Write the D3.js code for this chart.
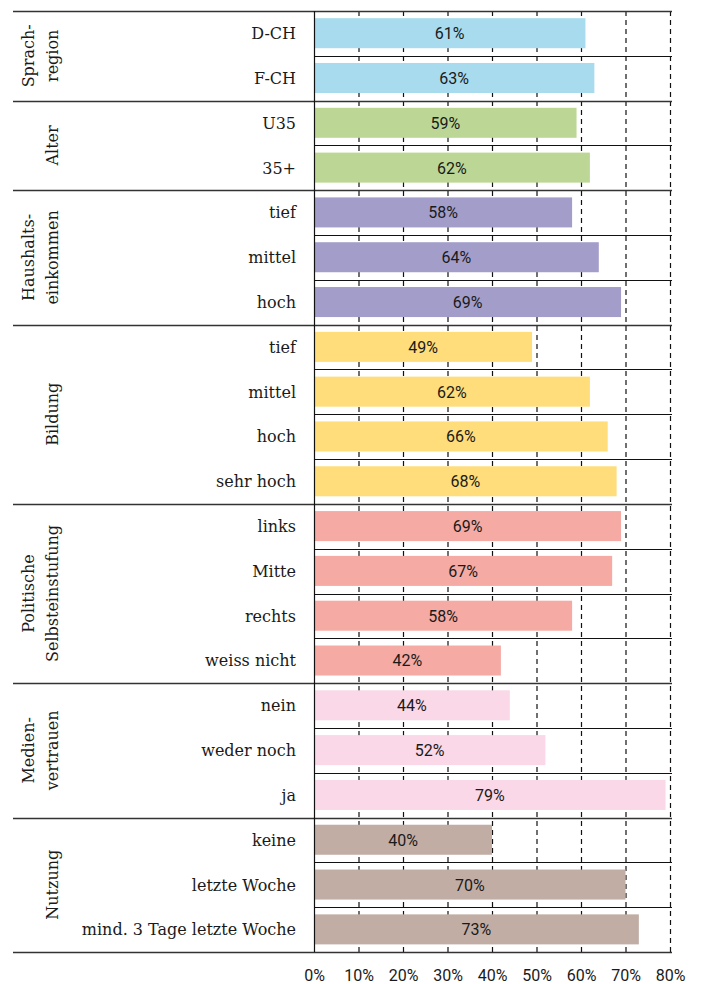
<!DOCTYPE html>
<html><head><meta charset="utf-8">
<script src="https://cdn.jsdelivr.net/npm/d3@7"></script>
<style>
html,body{margin:0;padding:0;background:#fff;}
svg{display:block;}
</style></head>
<body><svg id="chart" width="702" height="984"></svg>
<script>
const groupNames = ["Sprach-\nregion","Alter","Haushalts-\neinkommen","Bildung","Politische\nSelbsteinstufung","Medien-\nvertrauen","Nutzung"];
const groupColors = ["#a8dbee","#bcd795","#a39dca","#fedd7a","#f5aaa4","#fad8e7","#c2ada5"];
const groupOf = [0,0,1,1,2,2,2,3,3,3,3,4,4,4,4,5,5,5,6,6,6];
const categories = ["D-CH","F-CH","U35","35+","tief","mittel","hoch","tief","mittel","hoch","sehr hoch","links","Mitte","rechts","weiss nicht","nein","weder noch","ja","keine","letzte Woche","mind. 3 Tage letzte Woche"];
const values = [61,63,59,62,58,64,69,49,62,66,68,69,67,58,42,44,52,79,40,70,73];
const tickValues = [0,10,20,30,40,50,60,70,80];

const svg = d3.select("#chart");
const serif = "'DejaVu Serif', serif";
const sans = "Roboto, 'Open Sans', sans-serif";

const rows = categories.map((c,i)=>({key:i, label:c, value:values[i], group:groupOf[i]}));
const x = d3.scaleLinear().domain([0,80]).range([314,670]);
const y = d3.scaleBand().domain(rows.map(r=>r.key)).range([11,952]).padding(0);
const bw = y.bandwidth();

// dashed grid
svg.append("g").selectAll("line").data(tickValues.filter(t=>t>0)).join("line")
  .attr("x1",d=>x(d)+0.5).attr("x2",d=>x(d)+0.5)
  .attr("y1",11).attr("y2",952)
  .attr("stroke","#111").attr("stroke-width",1.2).attr("stroke-dasharray","5,4");

// bars
svg.append("g").selectAll("rect").data(rows).join("rect")
  .attr("x",x(0)+1).attr("y",d=>y(d.key)+bw*0.16)
  .attr("width",d=>x(d.value)-x(0)-1).attr("height",bw*0.67)
  .attr("fill",d=>groupColors[d.group]);

// value labels
svg.append("g").selectAll("text").data(rows).join("text")
  .attr("x",d=>(x(0)+x(d.value))/2).attr("y",d=>y(d.key)+bw/2)
  .attr("dy","0.36em").attr("text-anchor","middle")
  .attr("font-family",sans).attr("font-size",16).attr("fill","#1a1a1a")
  .text(d=>d.value+"%");

// category labels
svg.append("g").selectAll("text").data(rows).join("text")
  .attr("x",296).attr("y",d=>y(d.key)+bw/2)
  .attr("dy","0.36em").attr("text-anchor","end")
  .attr("font-family",serif).attr("font-size",16).attr("fill","#1a1a1a")
  .text(d=>d.label);

// horizontal lines
const lines = [];
rows.forEach((r,i)=>{
  if(i===0 || r.group!==rows[i-1].group) lines.push({y:y(r.key), full:true});
  else lines.push({y:y(r.key), full:false});
});
lines.push({y:952, full:true});
svg.append("g").selectAll("line").data(lines).join("line")
  .attr("x1",d=>d.full?13:314).attr("x2",672)
  .attr("y1",d=>Math.round(d.y)+0.5).attr("y2",d=>Math.round(d.y)+0.5)
  .attr("stroke",d=>d.full?"#333":"#111").attr("stroke-width",d=>d.full?1.6:1.2);

// axis line
svg.append("line").attr("x1",314.5).attr("x2",314.5).attr("y1",11).attr("y2",952)
  .attr("stroke","#111").attr("stroke-width",1.2);

// group labels
const groups = groupNames.map((g,gi)=>{
  const idx = rows.filter(r=>r.group===gi);
  const top = y(idx[0].key), bot = y(idx[idx.length-1].key)+bw;
  return {name:g, cy:(top+bot)/2};
});
const gl = svg.append("g").selectAll("text").data(groups).join("text")
  .attr("transform",d=>{
    const n = d.name.split("\n").length;
    return `translate(${n>1?34:58},${d.cy}) rotate(-90)`;
  })
  .attr("text-anchor","middle")
  .attr("font-family",serif).attr("font-size",16).attr("fill","#1a1a1a");
gl.each(function(d){
  const parts = d.name.split("\n");
  d3.select(this).selectAll("tspan").data(parts).join("tspan")
    .attr("x",0).attr("dy",(p,i)=>i===0?0:24).text(p=>p);
});

// x tick labels
const ax = svg.append("g").attr("transform","translate(0,952)")
  .call(d3.axisBottom(x).tickValues(tickValues).tickSize(0).tickPadding(0).tickFormat(d=>d+"%"));
ax.select(".domain").remove();
ax.selectAll("text").attr("font-family",sans).attr("font-size",16).attr("fill","#1a1a1a")
  .attr("y",29).attr("dy",0);
</script>
</body></html>
